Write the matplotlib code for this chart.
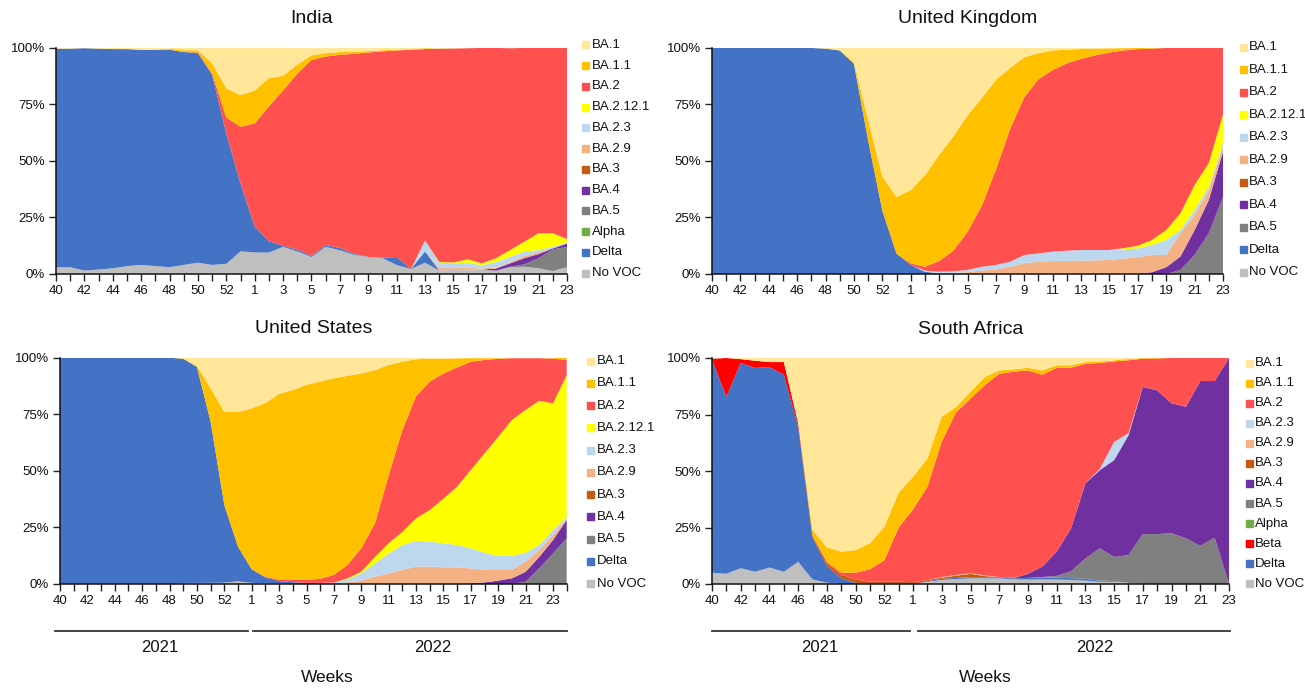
import matplotlib
matplotlib.use('Agg')
import matplotlib.pyplot as plt
from matplotlib.patches import Rectangle
from matplotlib.lines import Line2D
import numpy as np

plt.rcParams['font.family'] = ['Liberation Sans', 'DejaVu Sans']

# ---------------- categories ----------------
weeks_2021 = [40, 41, 42, 43, 44, 45, 46, 47, 48, 49, 50, 51, 52, 53]
weeks_2022 = [1, 2, 3, 4, 5, 6, 7, 8, 9, 10, 11, 12, 13, 14, 15, 16, 17, 18, 19, 20, 21, 22, 23]
weeks_2022_us = weeks_2022 + [24]

# ---------------- India (37 weeks) ----------------
in_novoc = [3, 3, 1.5, 2, 2.5, 3.5, 4, 3.5, 3, 4, 5, 4, 4.5, 10, 9.5, 9.5, 12, 10, 7.5, 12,
            10.5, 8.5, 7.5, 7, 4, 2.2, 5, 1.5, 1.8, 2, 2, 1.5, 3, 3.2, 2.5, 1.3, 3]
in_delta = [96.5, 96.5, 98.2, 97.5, 96.8, 95.8, 95, 95.5, 96, 94, 92.5, 84, 57.5, 30, 11.5, 5,
            0.5, 0.8, 0.5, 0.8, 1, 0.5, 0, 0.2, 3.5, 0, 5] + [0] * 10
in_alpha = [0] * 37
in_ba5 = [0] * 32 + [0.2, 1.1, 4.5, 9.6, 9]
in_ba4 = [0] * 31 + [0.9, 1.5, 2.7, 1.8, 0.4, 1.5]
in_ba3 = [0] * 37
in_ba29 = [0] * 27 + [1.1, 0.8, 0.8, 0.4, 0.5, 0.5, 1, 0.8, 0, 0]
in_ba23 = [0] * 26 + [4.8, 2.4, 2.1, 2.2, 1.4, 2.4, 2.4, 1.9, 1, 0.7, 0.5]
in_ba2121 = [0] * 27 + [0.3, 0.4, 1.5, 0.9, 1.7, 3, 4.4, 7.4, 6, 1.5]
in_ba2 = [0] * 10 + [0.3, 0.5, 7, 25, 45.5, 59.5, 68.5, 77.7, 86.5, 83.2, 85.3, 88.2, 90.3, 91.1,
                     91.2, 96.8, 84.5, 94.2, 94.5, 93.2, 95.1, 92.8, 89.1, 85.5, 81.8, 82, 85]
in_ba11 = [0] * 8 + [0.5, 0.8, 1, 4.5, 13, 14, 14.5, 12.5, 6.5, 4, 2, 1.5, 1.2, 0.8, 0.7, 0.5,
                     0.3, 0.2, 0.4] + [0] * 10
in_ba1 = [0.5, 0.5, 0.3, 0.5, 0.7, 0.7, 1, 1, 0.5, 1.2, 1.2, 7, 18, 21, 19, 13.5, 12.5, 7.5, 3.5,
          2.5, 2, 2, 1.5, 1.2, 1, 0.8, 0.3, 0.5, 0.4, 0.3, 0.2, 0.2, 0.3, 0.2, 0.2, 0, 0]

# ---------------- United Kingdom (37 weeks) ----------------
uk_novoc = [0] * 37
uk_delta = [100, 100, 100, 100, 100, 100, 100, 99.8, 99.5, 98.7, 92.8, 59, 28, 9, 4, 1, 0.3] + [0] * 20
uk_ba5 = [0] * 33 + [1.8, 8.4, 18, 34]
uk_ba4 = [0] * 30 + [0.2, 0.8, 3, 5.9, 11, 14.7, 20]
uk_ba3 = [0] * 37
uk_ba29 = [0] * 16 + [0.2, 0.5, 0.8, 1.5, 2, 3.2, 4.7, 5.4, 5.7, 5.8, 5.9, 6, 6.2, 6.8, 7.2, 7.6,
                      5.4, 10.3, 6.6, 4.3, 2]
uk_ba23 = [0] * 15 + [0.5, 0.5, 0.7, 1, 1.7, 2, 2.2, 3.7, 3.7, 4.2, 4.5, 4.7, 4.6, 4.4, 4.1, 3.9,
                      4.4, 6.6, 1.4, 2.3, 1.6, 1.7]
uk_ba2121 = [0] * 29 + [0.5, 1.2, 2.2, 4.4, 7.4, 11, 10.4, 12.7]
uk_ba2 = [0] * 14 + [0.7, 1.7, 4.7, 9.1, 16.7, 26.8, 42, 58.6, 69.6, 76.9, 80.1, 82.7, 84.4, 85.9,
                     87.2, 87.3, 86.8, 84.5, 80.4, 73, 60.5, 51, 29.6]
uk_ba11 = [0] * 10 + [0.7, 9, 15, 25, 32.3, 40.4, 46.8, 50.4, 51.5, 47.6, 39.7, 26.9, 17.7, 11.5,
                      8.7, 6, 4.3, 3, 1.8, 1, 0.5, 0.3] + [0] * 5
uk_ba1 = [0] * 7 + [0.2, 0.5, 1.3, 6.5, 32, 57, 66, 63, 56.4, 47.5, 39.3, 30, 22.4, 14.3, 9.1, 4.3,
                    2.5, 1.3, 1, 0.7, 0.5, 0.4, 0.3, 0.2, 0.2, 0.2, 0.2, 0.2, 0, 0]

# ---------------- United States (38 weeks) ----------------
us_novoc = [0] * 9 + [0.3, 0.5, 0.5, 0.6, 1.2, 0.5, 0.3, 0.2] + [0] * 21
us_delta = [100, 100, 100, 100, 100, 100, 100, 100, 100, 99.2, 95.4, 71.2, 34.3, 15.3, 6, 2.6, 1.1,
            0.8, 0.5, 0.3] + [0] * 18
us_ba5 = [0] * 34 + [1, 7, 13.5, 20.2]
us_ba4 = [0] * 30 + [0.3, 0.7, 1.5, 2.5, 4.4, 5, 5.9, 8.1]
us_ba3 = [0] * 38
us_ba29 = [0] * 19 + [0.2, 0.3, 0.7, 1.5, 3.2, 4.7, 6.2, 7.7, 7.7, 7.4, 7.3, 6.6, 5.5, 4.7, 3.7,
                      4.5, 3, 2.2, 0.7]
us_ba23 = [0] * 20 + [0.3, 1.3, 3.2, 5.9, 8.8, 11, 11.4, 11, 10.6, 9.9, 8.9, 7.6, 6.2, 6.2, 3.9,
                      2.2, 2.3, 0.7]
us_ba2121 = [0] * 21 + [0.5, 0.7, 2.9, 4.5, 5.8, 9.9, 14, 19.7, 25.8, 34.6, 43.9, 52.6, 60.1, 63.1,
                        63.8, 55.9, 62.6]
us_ba2 = [0] * 15 + [0.3, 0.7, 1, 1.3, 1.8, 3.4, 5.9, 10.4, 14.8, 30, 45, 54, 56.7, 55.3,
                     52.7, 47.8, 41.3, 34.5, 27.3, 22.9, 18.8, 19.8, 6.7]
us_ba11 = [0] * 9 + [0.2, 0.5, 14.8, 41.1, 59.5, 71.1, 76.8, 82, 83.9, 86.2, 87.2, 86.9, 83.6, 77.2,
                     67.7, 48.8, 30.2, 16.3, 10.2, 6.6, 4, 1.6, 0.8, 0.3, 0, 0, 0, 0.2, 1]
us_ba1 = [0] * 9 + [0.3, 3.6, 13.5, 24, 24, 22.4, 20, 16, 14.3, 12, 10.5, 9.1, 8, 7, 5.5, 3.2, 1.8,
                    0.7, 0.4, 0.4, 0.3, 0.2, 0.2, 0.2, 0.2, 0.2, 0.2, 0.2, 0]

# ---------------- South Africa (37 weeks) ----------------
sa_novoc = [5, 4.5, 7, 5.4, 7.3, 5.4, 9.8, 2, 0.6, 0, 0, 0, 0, 0, 0, 1, 1.8, 2.2, 2.5, 2.5,
            2.5, 2, 2, 2, 2, 1.8, 1.5, 1, 1, 0.5, 0, 0, 0, 0, 0, 0, 0]
sa_delta = [94.3, 78.3, 90.8, 90.2, 88.7, 87.2, 59.7, 18.5, 7.4, 2.5, 0.5, 0, 0, 0, 0, 0.2, 0.5,
            0.5, 0.5, 0.5, 0.3, 0.5, 0.7, 0.8, 0.8, 0.8, 0.8, 0.5, 0.3, 0, 0, 0, 0, 0, 0, 0, 0]
sa_beta = [0.4, 17.2, 1.7, 3.2, 2.2, 5.6, 1.5, 0.5, 0.3] + [0] * 28
sa_alpha = [0] * 37
sa_ba5 = [0] * 23 + [0.3, 0.8, 3, 9, 14.3, 10.7, 12.3, 22.1, 22.1, 22.4, 20.2, 16.9, 20.5, 0]
sa_ba4 = [0] * 22 + [1.8, 4.6, 10.7, 19, 33.2, 34.6, 42.8, 53, 65.1, 63.6, 57.4, 58.2, 72.9, 69.3, 100]
sa_ba3 = [0] * 6 + [0.3, 0.5, 1.2, 1.5, 1.5, 1, 1, 1, 0.8, 0.6, 0.5, 1, 1.5, 0.5, 0.3, 0.3] + [0] * 15
sa_ba29 = [0] * 16 + [0.3, 0.3, 0.3, 0.3] + [0] * 17
sa_ba23 = [0] * 27 + [0.5, 8, 1] + [0] * 7
sa_ba2 = [0] * 8 + [0.3, 1, 3, 5.5, 9.5, 24, 32.2, 41.2, 59.9, 72, 77.2, 84.2, 89.9, 90.7, 90, 84.9,
                    81.3, 71.1, 52.9, 46.9, 35.7, 32.2, 12.5, 14.1, 20, 21.6, 10.2, 10.2, 0]
sa_ba11 = [0] * 6 + [0.2, 2.5, 6.4, 9.3, 10, 11.5, 14.8, 15.4, 14.4, 12.5, 11, 2.4, 3, 3.6, 1.5, 1,
                     1.2, 1.9, 1.2, 1.1, 0.8, 0.7, 0.5, 0.5, 0.3, 0.2] + [0] * 5
sa_ba1 = [0.3, 0, 0.5, 1.2, 1.8, 1.8, 28.5, 76, 83.8, 85.7, 85, 82, 74.7, 59.6, 52.6, 44.5, 26,
          21.6, 15, 8.4, 5.5, 5, 4.3, 5.5, 3.2, 3.2, 1.8, 1.5, 1, 0.5, 0, 0, 0, 0, 0, 0, 0]

# ---------------- styles ----------------
colors = {
    'BA.1': '#FFE699', 'BA.1.1': '#FFC000', 'BA.2': '#FF5050', 'BA.2.12.1': '#FFFF00',
    'BA.2.3': '#BDD7EE', 'BA.2.9': '#F4B183', 'BA.3': '#C55A11', 'BA.4': '#7030A0',
    'BA.5': '#808080', 'Alpha': '#70AD47', 'Beta': '#FF0000', 'Delta': '#4472C4',
    'No VOC': '#BFBFBF',
}
legend_order = ['BA.1', 'BA.1.1', 'BA.2', 'BA.2.12.1', 'BA.2.3', 'BA.2.9', 'BA.3', 'BA.4',
                'BA.5', 'Alpha', 'Beta', 'Delta', 'No VOC']

panels = [
    dict(title='India', weeks=weeks_2021 + weeks_2022,
         data={'BA.1': in_ba1, 'BA.1.1': in_ba11, 'BA.2': in_ba2, 'BA.2.12.1': in_ba2121,
               'BA.2.3': in_ba23, 'BA.2.9': in_ba29, 'BA.3': in_ba3, 'BA.4': in_ba4,
               'BA.5': in_ba5, 'Alpha': in_alpha, 'Delta': in_delta, 'No VOC': in_novoc},
         box=(56, 47.5, 567, 274), leg=(582, 592, 44.8, 20.76), years=None),
    dict(title='United Kingdom', weeks=weeks_2021 + weeks_2022,
         data={'BA.1': uk_ba1, 'BA.1.1': uk_ba11, 'BA.2': uk_ba2, 'BA.2.12.1': uk_ba2121,
               'BA.2.3': uk_ba23, 'BA.2.9': uk_ba29, 'BA.3': uk_ba3, 'BA.4': uk_ba4,
               'BA.5': uk_ba5, 'Delta': uk_delta, 'No VOC': uk_novoc},
         box=(712, 47.5, 1223, 274), leg=(1240, 1249, 47.2, 22.5), years=None),
    dict(title='United States', weeks=weeks_2021 + weeks_2022_us,
         data={'BA.1': us_ba1, 'BA.1.1': us_ba11, 'BA.2': us_ba2, 'BA.2.12.1': us_ba2121,
               'BA.2.3': us_ba23, 'BA.2.9': us_ba29, 'BA.3': us_ba3, 'BA.4': us_ba4,
               'BA.5': us_ba5, 'Delta': us_delta, 'No VOC': us_novoc},
         box=(60, 357.7, 566.7, 584), leg=(587, 597, 361, 22.27),
         years=((55, 248), (253, 567), 160, 433, 327)),
    dict(title='South Africa', weeks=weeks_2021 + weeks_2022,
         data={'BA.1': sa_ba1, 'BA.1.1': sa_ba11, 'BA.2': sa_ba2, 'BA.2.3': sa_ba23,
               'BA.2.9': sa_ba29, 'BA.3': sa_ba3, 'BA.4': sa_ba4, 'BA.5': sa_ba5,
               'Alpha': sa_alpha, 'Beta': sa_beta, 'Delta': sa_delta, 'No VOC': sa_novoc},
         box=(712, 358, 1229, 584), leg=(1246, 1255, 363.2, 20.05),
         years=((712, 910), (918, 1230), 820, 1095, 985)),
]

W, H = 1305, 689
fig = plt.figure(figsize=(W / 100, H / 100), dpi=100)
fig.patch.set_facecolor('white')


def fx(px):
    return px / W


def fy(py):
    return 1 - py / H


for p in panels:
    x0, y0, x1, y1 = p['box']
    ax = fig.add_axes([fx(x0), fy(y1), (x1 - x0) / W, (y1 - y0) / H])
    names_top_down = [n for n in legend_order if n in p['data']]
    names_bottom_up = names_top_down[::-1]
    vals = np.array([p['data'][n] for n in names_bottom_up], dtype=float)
    vals = vals / vals.sum(axis=0) * 100.0
    x = np.arange(vals.shape[1])
    ax.stackplot(x, vals, colors=[colors[n] for n in names_bottom_up], linewidth=0)
    ax.set_xlim(0, len(x) - 1)
    ax.set_ylim(0, 100)
    ax.set_xticks(x)
    ax.set_xticklabels([str(w) if i % 2 == 0 else '' for i, w in enumerate(p['weeks'])])
    ax.set_yticks([0, 25, 50, 75, 100])
    ax.set_yticklabels(['0%', '25%', '50%', '75%', '100%'])
    ax.tick_params(axis='both', direction='out', length=5, width=1, labelsize=9.5,
                   color='#222222', labelcolor='#111111')
    ax.tick_params(axis='x', pad=3)
    ax.tick_params(axis='y', pad=3)
    for s in ['top', 'right']:
        ax.spines[s].set_visible(False)
    for s in ['left', 'bottom']:
        ax.spines[s].set_color('#111111')
        ax.spines[s].set_linewidth(1.1)

    fig.text(fx((x0 + x1) / 2), fy(y0 - 29), p['title'], ha='center', va='center',
             fontsize=14, color='#111111')

    sq_x, tx, ly, pitch = p['leg']
    for i, n in enumerate(names_top_down):
        yc = ly + i * pitch
        fig.patches.append(Rectangle((fx(sq_x), fy(yc + 3.5)), 7 / W, 7 / H,
                                     transform=fig.transFigure, color=colors[n]))
        fig.text(fx(tx), fy(yc), n, ha='left', va='center', fontsize=9.5, color='#111111')

    if p['years']:
        (a0, a1), (b0, b1), t21, t22, tw = p['years']
        for (l0, l1) in [(a0, a1), (b0, b1)]:
            fig.add_artist(Line2D([fx(l0), fx(l1)], [fy(631), fy(631)],
                                  transform=fig.transFigure, color='#333333', linewidth=1.3))
        fig.text(fx(t21), fy(648), '2021', ha='center', va='center', fontsize=12, color='#111111')
        fig.text(fx(t22), fy(648), '2022', ha='center', va='center', fontsize=12, color='#111111')
        fig.text(fx(tw), fy(678), 'Weeks', ha='center', va='center', fontsize=12.5, color='#111111')

fig.savefig('out.png', dpi=100, facecolor='white')
